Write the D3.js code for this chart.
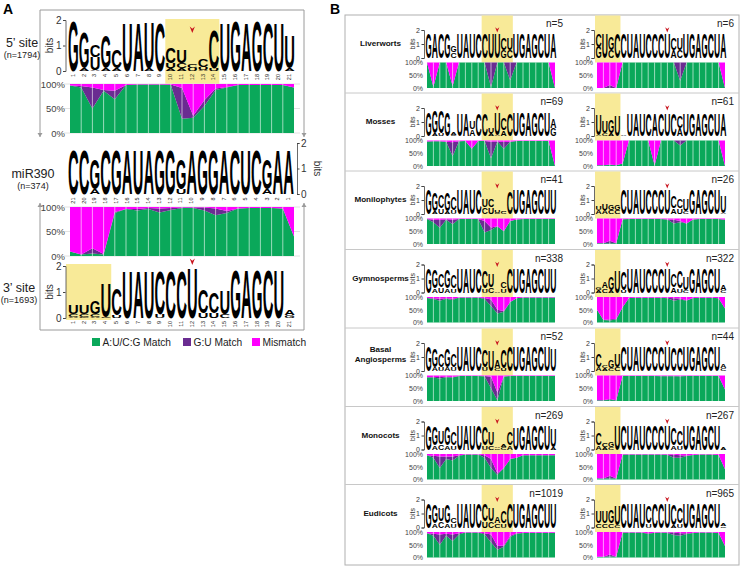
<!DOCTYPE html>
<html><head><meta charset="utf-8">
<script src="https://cdn.jsdelivr.net/npm/d3@7"></script>
<style>body{margin:0;background:#fff}</style></head>
<body><svg id="c" width="744" height="568"></svg>
<script>
// ---------------- DATA ----------------
// Logo strings: columns separated by spaces; letters top->bottom, letter + height in tenths of bits
const logo5 = "G19.5 G14,A1 C4.5,U5,A.5 G13,A1 C7,A1 U19.5 A19.5 U18,A1 C19.5 C6,U2,A1 U5,C2,A1 C1.5,U1 C3,U1,A.5 C15,U1 U19.5 G19.5 A19.5 G19.5 C19.5 U19 U13,A1";
const logoMiR = "C17.5 C17.5 G12,A2 C17.5 G17.5 A17.5 U17.5 A17.5 G17.5 G17.5 G12,U2 A17.5 G17.5 G17.5 A17.5 C17.5 U17.5 C17.5 G12,A2 A17.5 A17.5";
const logo3 = "U3.5,C1,A.5 U3.5,C1,G.5 G5,C1,A.5 U13,C.5 C10,U1 U18.5 A18.5 U18.5 C17,U1.5 C18.5 C18.5 U19.5 C9,U2 C8,U2 U9,C1.5 G19 A19 G19 C19 U19 A2,G1";
const posNums5 = d3.range(1, 22);
const posNumsMiR = d3.range(21, 0, -1);

const p5_match = [97,93,50,86,69,98,99,99,99,98,29,31,55,88,93,98,98,98,98,98,93];
const p5_gu    = [0,3,43,2,17,0,0,0,0,1,63,4,12,3,1,0,0,0,0,0,0];
const p5_mis   = [3,4,7,12,14,2,1,1,1,1,8,65,33,9,6,2,2,2,2,2,7];

const p3_match = [9,3,5,3,88,96,93,96,89,94,98,98,93,83,88,97,98,98,98,97,40];
const p3_gu    = [0,0,11,1,2,0,3,2,8,4,1,1,6,14,4,0,0,0,0,0,0];
const p3_mis   = [91,97,84,96,10,4,4,2,3,2,1,1,1,3,8,3,2,2,2,3,60];

const groups = ["Liverworts","Mosses","Monilophytes","Gymnosperms","Basal Angiosperms","Monocots","Eudicots"];
const nLeft  = [5,69,41,338,52,269,1019];
const nRight = [6,61,26,322,44,267,965];

const logoLeft = [
 "G18 A18 C18 G18 G5,C4 U18 A18 U18 C18 C18 U18 U18 C8,G6 U8,C6 U18 G18 A18 G18 C18 U18 A18",
 "G17 G16,A2 C16,U2 G17 A2,C1 U16 A16 U6,A5 C16 C16 U4,A2 U16,A1 C8,A4 C16 U17 G17 A17 G17 C17 U17 A7,G6",
 "G18 G13,A2 C9,U4 G13,A2 C9,U3 U18 A18 U18 C18 U6,C5 C6,U5 U2,C1 A1,C1.5 C16 U18 G18 A18 G18 C18 U18 U18",
 "G18 G13,A3 C9,U4 G13,A3 C9,U3 U18 A18 U18 C18 C12,U3 U9,C4 A1 C5,U3 C18 U18 G18 A18 G18 C18 U18 U18",
 "G18 G13,A3 C9,U3 G13,A3 C9,U3 U18 A18 U18 C18 C12,U3 U15 A6,C2 C13,U2 C18 U18 G18 A18 G18 C18 U18 U16",
 "G18 G13,A3 U9,C4 G13,A3 C9,U3 U18 A18 U18 C18 C13,U3 U9,C3 A1,C1 A2,C2 C9,A3 U16 G18 A18 G18 C18 U18 U13,A2",
 "G18 G13,A3 U9,C5 G13,A3 C4,U3 U18 A18 U18 C18 C12,U5 U9,C5 A5,C3 C8,U3 C18 U18 G18 A18 G18 C18 U18 U18"
];
const logoRight = [
 "C9,G8 U18 G9,C6 C18 C18 U18 A18 U18 C18 C18 C18 U18 C8,A6 U8,C6 U18 G18 A18 G18 C18 U18 A18",
 "U15,A1 U8,C2 G9,A2 U15 A1 U16 A16 U16 C16 A16 C16 U16 C16 C8,A6 U16 G16 A16 G16 C16 U16 A16",
 "U3,A3 U5,A3 G4,C3 G4,C3 C18 U18 A18 U18 C18 C18 C18 U18 C8,A4 C7,U4 U8,C2 G18 A18 G18 C18 U18 U12,A1",
 "G2,A2 A5,C3 G9,A2 U16 C13,U2 U18 A18 U18 C18 C18 C18 U18 C9,A4 C12,U3 U9,C2 G18 A18 G18 C18 U18 A4,C2",
 "C9,A3 C2,A2 G6,C2 U9,C3 C18 U18 A18 U18 C18 C18 C18 U18 C17 C17 U18 G18 A18 G18 C18 U18 A3,C2",
 "C8,A3 C3,A2 G4,C2 U18 C18 U18 A18 U18 C18 C18 C18 U18 C12,A3 C10,U3 U18 G18 A18 G18 C18 U18 A2",
 "U8,C3 U8,C3 G9,C3 U14,C2 C18 U18 A18 U18 C12,U3 C18 C18 U18 C15,A2 C11,U3 U18 G18 A18 G18 C18 U18 A2,C1"
];

const livL_match = [100,5,100,100,8,100,100,100,100,100,4,100,100,30,100,100,100,100,100,100,0];
const livL_gu    = [0,0,0,0,0,0,0,0,0,0,96,0,0,70,0,0,0,0,0,0,0];
const livL_mis   = [0,95,0,0,92,0,0,0,0,0,0,0,0,0,0,0,0,0,0,0,100];
const livR_match = [0,0,0,0,100,100,100,100,100,100,100,100,100,28,100,100,100,100,100,100,0];
const livR_gu    = [0,0,12,0,0,0,0,0,0,0,0,0,0,72,0,0,0,0,0,0,0];
const livR_mis   = [100,100,88,100,0,0,0,0,0,0,0,0,0,0,0,0,0,0,0,0,100];

const mosL_match = [96,97,97,95,38,97,98,68,98,98,30,96,68,95,98,98,98,98,98,98,0];
const mosL_gu    = [0,0,0,0,55,0,0,0,0,0,65,0,26,0,0,0,0,0,0,0,0];
const mosL_mis   = [4,3,3,5,7,3,2,32,2,2,5,4,6,5,2,2,2,2,2,2,100];
const mosR_match = [3,3,4,3,10,100,100,100,100,3,100,100,100,80,100,100,100,100,100,100,0];
const mosR_gu    = [0,0,2,0,0,0,0,0,0,0,0,0,0,20,0,0,0,0,0,0,0];
const mosR_mis   = [97,97,94,97,90,0,0,0,0,97,0,0,0,0,0,0,0,0,0,0,100];

const monL_match = [98,85,64,95,77,98,98,98,98,45,55,70,50,90,96,98,98,98,98,98,98];
const monL_gu    = [0,10,30,2,18,0,0,0,0,45,10,0,0,0,0,0,0,0,0,0,0];
const monL_mis   = [2,5,6,3,5,2,2,2,2,10,35,30,50,10,4,2,2,2,2,2,2];
const monR_match = [3,3,3,3,97,98,98,98,98,98,98,96,80,85,80,96,98,98,98,98,95];
const monR_gu    = [0,0,10,0,0,0,0,0,0,0,0,0,15,5,0,0,0,0,0,0,0];
const monR_mis   = [97,97,87,97,3,2,2,2,2,2,2,4,5,10,20,4,2,2,2,2,5];

const gymL_match = [96,92,85,93,88,98,98,98,98,92,65,35,42,80,95,98,98,98,98,98,98];
const gymL_gu    = [0,3,8,2,5,0,0,0,0,4,25,15,3,0,0,0,0,0,0,0,0];
const gymL_mis   = [4,5,7,5,7,2,2,2,2,4,10,50,55,20,5,2,2,2,2,2,2];
const gymR_match = [50,10,8,12,60,96,97,97,97,97,97,95,85,90,85,96,97,97,97,95,55];
const gymR_gu    = [0,0,5,2,0,0,0,0,0,0,0,2,10,4,2,0,0,0,0,0,0];
const gymR_mis   = [50,90,87,86,40,4,3,3,3,3,3,3,5,6,13,4,3,3,3,5,45];

const basL_match = [93,92,88,93,92,98,98,98,98,96,50,3,96,98,98,98,98,98,98,98,98];
const basL_gu    = [0,2,6,2,2,0,0,0,0,2,45,30,0,0,0,0,0,0,0,0,0];
const basL_mis   = [7,6,6,5,6,2,2,2,2,2,5,67,4,2,2,2,2,2,2,2,2];
const basR_match = [3,3,4,3,98,98,98,98,98,98,97,97,97,97,98,98,98,98,98,98,45];
const basR_gu    = [0,0,4,0,0,0,0,0,0,0,1,1,1,0,0,0,0,0,0,0,0];
const basR_mis   = [97,97,92,97,2,2,2,2,2,2,2,2,2,3,2,2,2,2,2,2,55];

const mcL_match = [95,85,45,80,75,92,98,98,98,85,45,18,45,80,85,95,95,95,95,95,95];
const mcL_gu    = [0,8,45,10,15,3,0,0,0,10,35,7,0,0,0,0,0,0,0,0,0];
const mcL_mis   = [5,7,10,10,10,5,2,2,2,5,20,75,55,20,15,5,5,5,5,5,5];
const mcR_match = [5,4,5,4,98,98,98,98,98,98,98,96,85,85,92,96,98,98,98,96,40];
const mcR_gu    = [0,0,10,0,0,0,0,0,0,0,0,2,12,10,2,0,0,0,0,0,0];
const mcR_mis   = [95,96,85,96,2,2,2,2,2,2,2,2,3,5,6,4,2,2,2,4,60];

const euL_match = [95,85,50,85,65,90,98,98,98,90,60,30,42,80,93,96,97,97,97,97,97];
const euL_gu    = [0,8,40,8,25,5,0,0,0,5,30,15,5,5,2,0,0,0,0,0,0];
const euL_mis   = [5,7,10,7,10,5,2,2,2,5,10,55,53,15,5,4,3,3,3,3,3];
const euR_match = [3,3,4,3,98,98,98,98,92,97,98,96,88,85,92,96,98,98,98,96,45];
const euR_gu    = [0,0,8,0,0,0,0,0,3,0,0,2,10,10,3,0,0,0,0,0,0];
const euR_mis   = [97,97,88,97,2,2,2,2,5,3,2,2,2,5,5,4,2,2,2,4,55];

const areaLeft  = [[livL_match,livL_gu,livL_mis],[mosL_match,mosL_gu,mosL_mis],[monL_match,monL_gu,monL_mis],[gymL_match,gymL_gu,gymL_mis],[basL_match,basL_gu,basL_mis],[mcL_match,mcL_gu,mcL_mis],[euL_match,euL_gu,euL_mis]];
const areaRight = [[livR_match,livR_gu,livR_mis],[mosR_match,mosR_gu,mosR_mis],[monR_match,monR_gu,monR_mis],[gymR_match,gymR_gu,gymR_mis],[basR_match,basR_gu,basR_mis],[mcR_match,mcR_gu,mcR_mis],[euR_match,euR_gu,euR_mis]];

const legendLabels = ["A:U/C:G Match","G:U Match","Mismatch"];
const bitTicks = [0,1,2];
const pctTicks = [0,50,100];
const COLORS = ["#0aa85a","#6a2c91","#ff00ff"];
const YELLOW = "#f8ea98";
const RED = "#c8141e";

// ---------------- DRAW ----------------
const svg = d3.select("#c");
const FONT = "'Liberation Sans', Arial, Helvetica, sans-serif";
const CAP = 0.716;
const meas = svg.append("text").attr("font-family",FONT).attr("font-weight","bold").attr("font-size",100);
const adv = {};
for (const L of "ACGU") { meas.text(L); adv[L] = meas.node().getComputedTextLength(); }
meas.remove();

function parseLogo(str){
  return str.split(" ").map(c => c==="-" ? [] : c.split(",").map(t => ({L:t[0], h:+t.slice(1)/10})));
}
function drawLogo(g, str, x0, x1, yB){
  const cols = parseLogo(str);
  const xb = d3.scaleBand().domain(d3.range(cols.length)).range([x0,x1]);
  const bw = xb.bandwidth();
  cols.forEach((stack,i)=>{
    let base = yB(0);
    stack.slice().reverse().forEach(({L,h})=>{
      const hp = yB(0) - yB(h);
      if (hp >= 0.5) {
        const sx = bw*0.99/adv[L];
        const sy = hp/(CAP*100);
        g.append("text").text(L).attr("font-family",FONT).attr("font-weight","bold")
          .attr("font-size",100).attr("fill","#000")
          .attr("transform",`translate(${xb(i)+bw*0.005},${base}) scale(${sx},${sy})`);
      }
      base -= hp;
    });
  });
  return xb;
}
function drawArea(g, arrs, x0, x1, yTop, yBot, fs, labX, grid){
  const rows = arrs[0].map((m,i)=>({match:m, gu:arrs[1][i], mis:arrs[2][i]}));
  const series = d3.stack().keys(["match","gu","mis"])(rows);
  const x = d3.scaleLinear().domain([0,rows.length-1]).range([x0,x1]);
  const y = d3.scaleLinear().domain([0,100]).range([yBot,yTop]);
  if (grid) {
    g.selectAll(null).data(pctTicks).join("line")
      .attr("x1",x0-6).attr("x2",x1+6).attr("y1",d=>y(d)).attr("y2",d=>y(d))
      .attr("stroke","#e2e2e2").attr("stroke-width",1);
  }
  const area = d3.area().x((d,i)=>x(i)).y0(d=>y(d[0])).y1(d=>y(d[1]));
  g.selectAll(null).data(series).join("path").attr("d",area).attr("fill",(d,i)=>COLORS[i]);
  g.selectAll(null).data(d3.range(1,rows.length-1)).join("line")
    .attr("x1",d=>x(d)).attr("x2",d=>x(d)).attr("y1",yTop).attr("y2",yBot)
    .attr("stroke","#fff").attr("stroke-opacity",0.75).attr("stroke-width",0.8);
  const ax = g.append("g").attr("transform",`translate(${labX},0)`)
    .call(d3.axisLeft(y).tickValues(pctTicks).tickFormat(d=>d+"%").tickSize(0).tickPadding(0));
  ax.select(".domain").remove();
  ax.selectAll("text").attr("font-family",FONT).attr("font-size",fs).attr("fill","#444");
}
function bitsAxis(g, yB, x, fs, side, labelX){
  const a = side==="left" ? d3.axisLeft(yB) : d3.axisRight(yB);
  const ax = g.append("g").attr("transform",`translate(${x},0)`)
    .call(a.tickValues(bitTicks).tickFormat(d3.format("d")).tickSize(2.5).tickPadding(1.5));
  ax.select(".domain").attr("stroke","#444").attr("stroke-width",0.8);
  ax.selectAll(".tick line").attr("stroke","#444");
  ax.selectAll("text").attr("font-family",FONT).attr("font-size",fs).attr("fill","#333");
  const ym = (yB(0)+yB(2))/2;
  g.append("text").text("bits").attr("font-family",FONT).attr("font-size",fs).attr("fill","#333")
    .attr("text-anchor","middle")
    .attr("transform",`translate(${labelX},${ym}) rotate(${side==="left"?-90:90})`);
}
function chevron(g, x, y, s){
  g.append("path").attr("d",`M${x-2.6*s},${y-3.5*s} L${x},${y+3*s} L${x+2.6*s},${y-3.5*s} L${x},${y-1.2*s} Z`).attr("fill",RED);
}
function posNumbers(g, xb, nums, y){
  nums.forEach((n,i)=>{
    g.append("text").text(n).attr("font-family",FONT).attr("font-size",5.5).attr("fill","#222")
      .attr("text-anchor","end").attr("dominant-baseline","middle")
      .attr("transform",`translate(${xb(i)+xb.bandwidth()/2},${y}) rotate(-90)`);
  });
}

// ===== Panel A =====
const A = svg.append("g");
A.append("text").text("A").attr("x",3).attr("y",14).attr("font-family",FONT).attr("font-weight","bold").attr("font-size",14);
const gray = "#9a9a9a";
A.append("path").attr("d","M40,137 L40,10 L304,10 L304,137").attr("fill","none").attr("stroke",gray);
A.append("path").attr("d","M40,203 L40,330 L304,330 L304,203").attr("fill","none").attr("stroke",gray);
[[40,137,1],[304,137,1],[40,203,-1],[304,203,-1]].forEach(([x,y,d])=>{
  A.append("path").attr("d",`M${x-2.5},${y-4*d} L${x},${y} L${x+2.5},${y-4*d} Z`).attr("fill",gray);
});
function sideLabel(t1,t2,x,y){
  A.append("text").text(t1).attr("x",x).attr("y",y).attr("text-anchor","middle").attr("font-family",FONT).attr("font-size",12.5).attr("fill","#222");
  A.append("text").text(t2).attr("x",x).attr("y",y+11).attr("text-anchor","middle").attr("font-family",FONT).attr("font-size",9).attr("fill","#222");
}
sideLabel("5\u2019 site","(n=1794)",22,47);
sideLabel("miR390","(n=374)",33,178);
sideLabel("3\u2019 site","(n=1693)",19,292);

// 5' site logo
const yB5 = d3.scaleLinear().domain([0,2]).range([71,20]);
const xb5tmp = d3.scaleBand().domain(d3.range(21)).range([68,295]);
A.append("rect").attr("x",xb5tmp(9)).attr("y",19).attr("width",xb5tmp(13)+xb5tmp.bandwidth()-xb5tmp(9)).attr("height",65).attr("fill",YELLOW);
const xb5 = drawLogo(A, logo5, 68, 295, yB5);
bitsAxis(A, yB5, 65.5, 10, "left", 53);
posNumbers(A, xb5, posNums5, 74);
chevron(A, xb5(11)+xb5.bandwidth()/2, 30, 1);
drawArea(A, [p5_match,p5_gu,p5_mis], 70, 294, 84, 133, 9.5, 65, true);

// miR390 logo
const yBm = d3.scaleLinear().domain([0,2]).range([194,143]);
const xbm = drawLogo(A, logoMiR, 68, 294, yBm);
bitsAxis(A, yBm, 297, 10, "right", 314);
posNumbers(A, xbm, posNumsMiR, 197.5);

// 3' area
drawArea(A, [p3_match,p3_gu,p3_mis], 70, 294, 207, 256, 9.5, 65, true);

// 3' site logo
const yB3 = d3.scaleLinear().domain([0,2]).range([318,266]);
const xb3tmp = d3.scaleBand().domain(d3.range(21)).range([68,295]);
A.append("rect").attr("x",66).attr("y",264).attr("width",xb3tmp(3)+xb3tmp.bandwidth()-66).attr("height",56).attr("fill",YELLOW);
const xb3 = drawLogo(A, logo3, 68, 295, yB3);
bitsAxis(A, yB3, 65.5, 10, "left", 53);
posNumbers(A, xb3, posNums5, 321);
chevron(A, xb3(11)+xb3.bandwidth()/2, 262, 1);

// legend
const legX = [92,183,252];
legendLabels.forEach((t,i)=>{
  A.append("rect").attr("x",legX[i]).attr("y",338).attr("width",8).attr("height",8).attr("fill",COLORS[i]);
  A.append("text").text(t).attr("x",legX[i]+10.5).attr("y",346).attr("font-family",FONT).attr("font-size",10.2).attr("fill","#222");
});

// ===== Panel B =====
const B = svg.append("g");
B.append("text").text("B").attr("x",330).attr("y",14).attr("font-family",FONT).attr("font-weight","bold").attr("font-size",14);
const rowTops = [15,93,171,249.5,328,406.5,484.5];
const boxBottom = 565;
B.append("rect").attr("x",345).attr("y",15).attr("width",394).attr("height",boxBottom-15).attr("fill","none").attr("stroke","#b0b0b0");
rowTops.slice(1).forEach(t=>{
  B.append("line").attr("x1",345).attr("x2",739).attr("y1",t).attr("y2",t).attr("stroke","#c8c8c8");
});
const blocks = [
  {lx0:425.5, lx1:556.5, ax0:427, ax1:555, axisX:424, labX:423, bitsX:414.5, nX:563, yel:[9,13]},
  {lx0:595.5, lx1:726.5, ax0:597, ax1:725, axisX:594, labX:593, bitsX:584.5, nX:734, yel:[0,3]}
];
groups.forEach((name,r)=>{
  const t = rowTops[r];
  const g = B.append("g");
  const lines = name.split(" ");
  if (lines.length===1) {
    g.append("text").text(name).attr("x",380.5).attr("y",t+31).attr("text-anchor","middle")
      .attr("font-family",FONT).attr("font-weight","bold").attr("font-size",8.1).attr("fill","#111");
  } else {
    lines.forEach((ln,k)=>g.append("text").text(ln).attr("x",380.5).attr("y",t+24+k*10).attr("text-anchor","middle")
      .attr("font-family",FONT).attr("font-weight","bold").attr("font-size",8.1).attr("fill","#111"));
  }
  blocks.forEach((b,bi)=>{
    const yB = d3.scaleLinear().domain([0,2]).range([t+43,t+15]);
    const xbt = d3.scaleBand().domain(d3.range(21)).range([b.lx0,b.lx1]);
    const yx0 = bi===1 ? b.lx0-0.5 : xbt(b.yel[0]);
    g.append("rect").attr("x",yx0).attr("y",t+0.5)
      .attr("width",xbt(b.yel[1])+xbt.bandwidth()-yx0).attr("height",47).attr("fill",YELLOW);
    const xb = drawLogo(g, (bi===0?logoLeft:logoRight)[r], b.lx0, b.lx1, yB);
    bitsAxis(g, yB, b.axisX, 7, "left", b.bitsX);
    chevron(g, xb(11)+xb.bandwidth()/2, t+15, 0.8);
    g.append("text").text("n="+(bi===0?nLeft:nRight)[r]).attr("x",b.nX).attr("y",t+12).attr("text-anchor","end")
      .attr("font-family",FONT).attr("font-size",10).attr("fill","#222");
    drawArea(g, (bi===0?areaLeft:areaRight)[r], b.ax0, b.ax1, t+47.5, t+73, 7, b.labX, false);
  });
});
</script>
</body></html>
